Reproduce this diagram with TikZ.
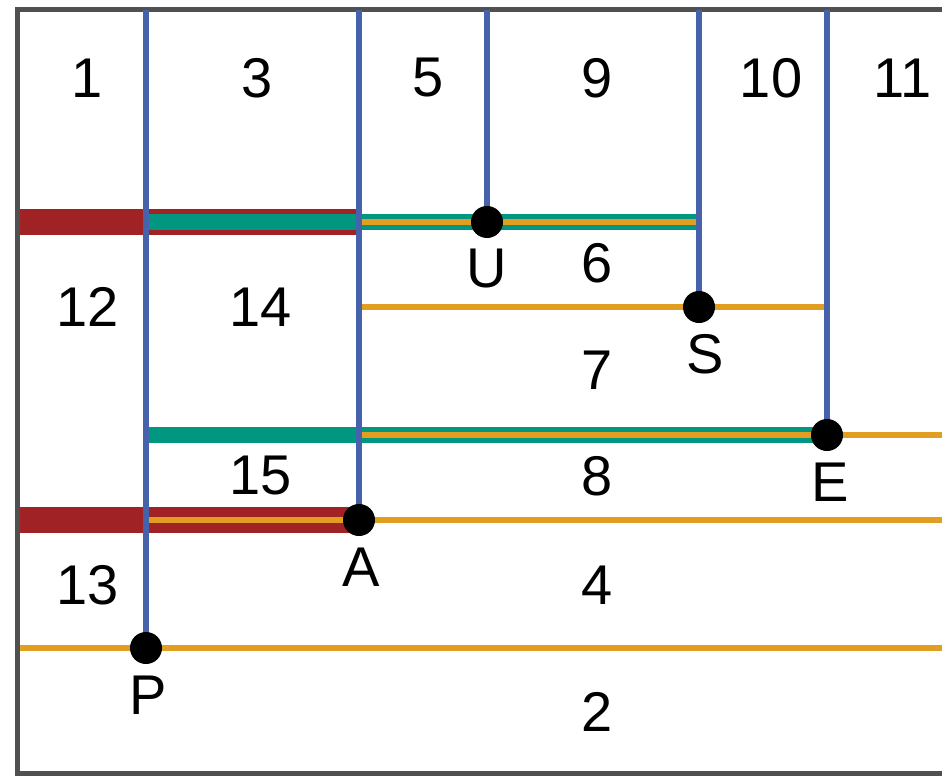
\documentclass[tikz,border=0pt]{standalone}
\usepackage{fontspec}
\setmainfont{Liberation Sans}
\usepackage{tikz}

\definecolor{frame}{RGB}{80,80,80}
\definecolor{vline}{RGB}{70,98,170}
\definecolor{band}{RGB}{160,34,36}
\definecolor{teal}{RGB}{0,150,128}
\definecolor{gold}{RGB}{226,158,32}

\tikzset{
  cut/.style={line width=6pt,vline},
  redband/.style={line width=26pt,band},
  tealband/.style={line width=16pt,teal},
  goldline/.style={line width=6pt,gold},
  pt/.style={circle,fill=black,inner sep=0pt,minimum size=32pt},
  num/.style={font=\fontsize{56}{60}\selectfont},
}

\begin{document}
\begin{tikzpicture}[x=1pt,y=-1pt]
  \clip (0,0) rectangle (942,776);
  \fill[white] (0,0) rectangle (942,776);
  \draw[line width=5pt,frame] (17,10) rectangle (990,773);

  % where the cuts end
  \coordinate (cU) at (487,222);
  \coordinate (cS) at (699,307);
  \coordinate (cE) at (827,435);
  \coordinate (cA) at (359,520);
  \coordinate (cP) at (146,648);

  \coordinate (L1) at (20,222);
  \coordinate (L2) at (20,520);
  \coordinate (L3) at (20,648);
  \coordinate (B1) at (146,222);
  \coordinate (B2) at (146,435);
  \coordinate (B3) at (146,520);
  \coordinate (C1) at (359,222);
  \coordinate (C2) at (359,307);
  \coordinate (C3) at (359,435);
  \coordinate (D1) at (699,222);
  \coordinate (F1) at (827,307);
  \coordinate (R1) at (950,435);
  \coordinate (R2) at (950,520);
  \coordinate (R3) at (950,648);

  \draw[redband] (L1)--(C1);
  \draw[redband] (L2)--(cA);
  \draw[tealband] (B1)--(D1);
  \draw[tealband] (B2)--(cE);
  \draw[goldline] (C1)--(D1);
  \draw[goldline] (C2)--(F1);
  \draw[goldline] (C3)--(R1);
  \draw[goldline] (B3)--(R2);
  \draw[goldline] (L3)--(R3);

  \draw[cut] (146,10)--(cP);
  \draw[cut] (359,10)--(cA);
  \draw[cut] (487,10)--(cU);
  \draw[cut] (699,10)--(cS);
  \draw[cut] (827,10)--(cE);

  % points
  \foreach \p/\q in {U/487,S/705,E/830,A/361,P/148}{
    \node[pt] (\p) at (c\p) {};
    \node[num] (lab\p) at (\q,0 |- c\p) [yshift=-47pt] {\p};
  }

  \node[num] (r1) at (87,78) {1};
  \node[num] (r3) at (257,78) {3};
  \node[num] (r5) at (428,78) {5};
  \node[num] (r9) at (597,78) {9};
  \node[num] (r10) at (771,78) {10};
  \node[num] (r11) at (903,78) {11};
  \node[num] (r6) at (597,263) {6};
  \node[num] (r12) at (88,307) {12};
  \node[num] (r14) at (261,307) {14};
  \node[num] (r7) at (597,370) {7};
  \node[num] (r15) at (261,476) {15};
  \node[num] (r8) at (597,476) {8};
  \node[num] (r13) at (88,585) {13};
  \node[num] (r4) at (597,585) {4};
  \node[num] (r2) at (597,712) {2};
\end{tikzpicture}
\end{document}
